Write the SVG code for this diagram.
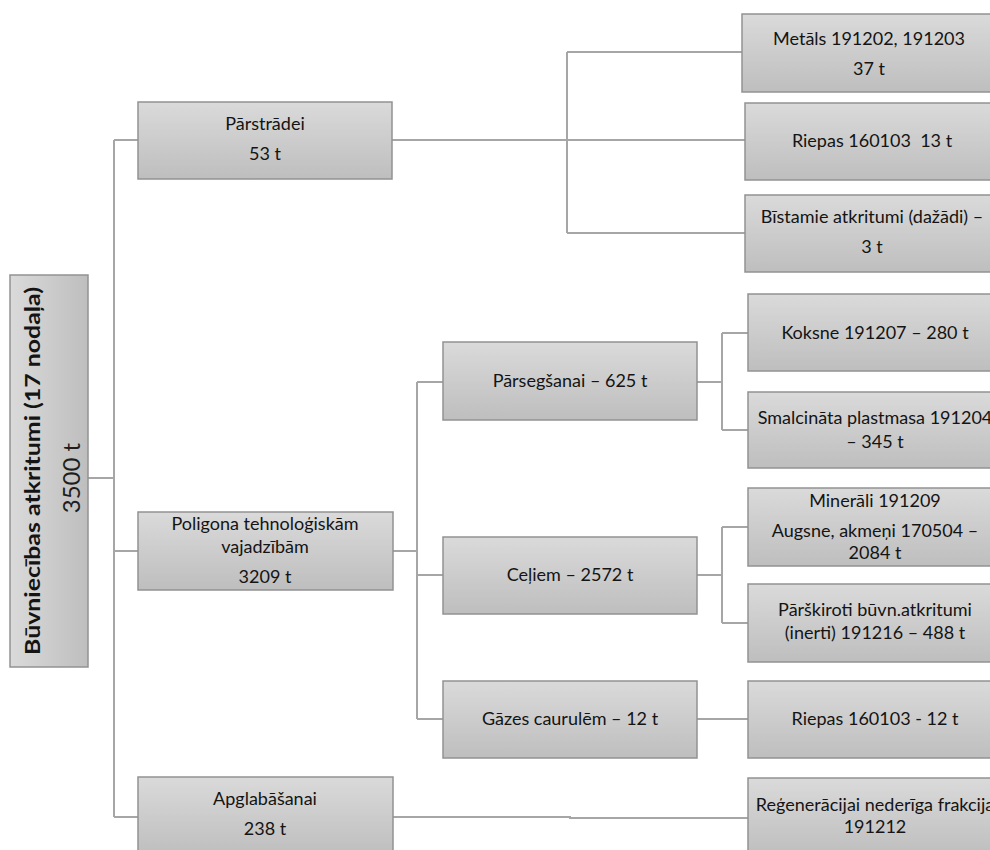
<svg xmlns="http://www.w3.org/2000/svg" width="990" height="850" viewBox="0 0 990 850">
  <defs>
    <linearGradient id="boxFill" x1="0" y1="0" x2="0" y2="1">
      <stop offset="0" stop-color="#dadada"/>
      <stop offset="1" stop-color="#bebebe"/>
    </linearGradient>
    <linearGradient id="rootFill" x1="0" y1="0" x2="1" y2="0">
      <stop offset="0" stop-color="#dadada"/>
      <stop offset="1" stop-color="#bebebe"/>
    </linearGradient>
  </defs>
  <style>
    .box { fill: url(#boxFill); stroke: #929292; stroke-width: 1.5; }
    .root { fill: url(#rootFill); stroke: #929292; stroke-width: 1.5; }
    .lbl { font-family: Lato, "Liberation Sans", sans-serif; font-size: 18px; fill: #141414; text-anchor: middle; }
    .title { font-family: Lato, "Liberation Sans", sans-serif; font-size: 21px; font-weight: bold; fill: #141414; text-anchor: middle; }
    .total { font-family: Lato, "Liberation Sans", sans-serif; font-size: 24px; fill: #1e1e1e; text-anchor: middle; }
    .conn { fill: none; stroke: #a6a6a6; stroke-width: 2; }
  </style>
  <rect width="990" height="850" fill="#ffffff"/>

  <!-- connectors -->
  <g id="connectors" class="conn">
    <path d="M88 478 H114"/>
    <path d="M114 140 V817"/>
    <path d="M114 140 H138 M114 551 H138 M114 817 H138"/>
    <!-- recycling branch -->
    <path d="M392 140 H745"/>
    <path d="M567 52 V233 M567 52 H742 M567 233 H745"/>
    <!-- technological needs branch -->
    <path d="M393 551 H417 M417 382 V719 M417 382 H443 M417 575 H443 M417 719 H443"/>
    <path d="M697 382 H722 M722 333 V430 M722 333 H748 M722 430 H748"/>
    <path d="M697 575 H722 M722 527 V623 M722 527 H748 M722 623 H748"/>
    <path d="M697 719 H748"/>
    <!-- landfill branch -->
    <path d="M393 817 H570 V818 H748"/>
  </g>

  <!-- root -->
  <g id="root">
    <rect class="root" x="10" y="275" width="78" height="392"/>
    <text class="title" transform="translate(40 471) rotate(-90)" textLength="368" lengthAdjust="spacingAndGlyphs">Būvniecības atkritumi (17 nodaļa)</text>
    <text class="total" transform="translate(80 478) rotate(-90)">3500 t</text>
  </g>

  <!-- level 1 -->
  <g id="parstradei">
    <rect class="box" x="138" y="102" width="254" height="77"/>
    <text class="lbl" x="265" y="130">Pārstrādei</text>
    <text class="lbl" x="265" y="160">53 t</text>
  </g>
  <g id="poligona">
    <rect class="box" x="138" y="512" width="255" height="78"/>
    <text class="lbl" x="265" y="530">Poligona tehnoloģiskām</text>
    <text class="lbl" x="265" y="553">vajadzībām</text>
    <text class="lbl" x="265" y="583">3209 t</text>
  </g>
  <g id="apglabasanai">
    <rect class="box" x="138" y="777" width="255" height="78"/>
    <text class="lbl" x="265" y="805">Apglabāšanai</text>
    <text class="lbl" x="265" y="835">238 t</text>
  </g>

  <!-- level 2 -->
  <g id="parsegsanai">
    <rect class="box" x="443" y="342" width="254" height="78"/>
    <text class="lbl" x="570" y="387">Pārsegšanai – 625 t</text>
  </g>
  <g id="celiem">
    <rect class="box" x="443" y="537" width="254" height="77"/>
    <text class="lbl" x="570" y="581">Ceļiem – 2572 t</text>
  </g>
  <g id="gazes">
    <rect class="box" x="443" y="681" width="254" height="77"/>
    <text class="lbl" x="570" y="725">Gāzes caurulēm – 12 t</text>
  </g>

  <!-- level 3 -->
  <g id="metals">
    <rect class="box" x="742" y="14" width="254" height="78"/>
    <text class="lbl" x="869" y="45">Metāls 191202, 191203</text>
    <text class="lbl" x="869" y="75">37 t</text>
  </g>
  <g id="riepas13">
    <rect class="box" x="745" y="103" width="254" height="77"/>
    <text class="lbl" x="872" y="147">Riepas 160103&#160; 13 t</text>
  </g>
  <g id="bistamie">
    <rect class="box" x="745" y="195" width="254" height="77"/>
    <text class="lbl" x="872" y="223">Bīstamie atkritumi (dažādi) –</text>
    <text class="lbl" x="872" y="253">3 t</text>
  </g>
  <g id="koksne">
    <rect class="box" x="748" y="294" width="254" height="77"/>
    <text class="lbl" x="875" y="339">Koksne 191207 – 280 t</text>
  </g>
  <g id="plastmasa">
    <rect class="box" x="748" y="392" width="254" height="76"/>
    <text class="lbl" x="875" y="424">Smalcināta plastmasa 191204</text>
    <text class="lbl" x="875" y="448">– 345 t</text>
  </g>
  <g id="minerali">
    <rect class="box" x="748" y="488" width="254" height="78"/>
    <text class="lbl" x="875" y="507">Minerāli 191209</text>
    <text class="lbl" x="875" y="537">Augsne, akmeņi 170504 –</text>
    <text class="lbl" x="875" y="559">2084 t</text>
  </g>
  <g id="parskiroti">
    <rect class="box" x="748" y="584" width="254" height="78"/>
    <text class="lbl" x="875" y="616">Pārškiroti būvn.atkritumi</text>
    <text class="lbl" x="875" y="639">(inerti) 191216 – 488 t</text>
  </g>
  <g id="riepas12">
    <rect class="box" x="748" y="681" width="254" height="77"/>
    <text class="lbl" x="875" y="725">Riepas 160103 - 12 t</text>
  </g>
  <g id="regeneracijai">
    <rect class="box" x="748" y="778" width="254" height="78"/>
    <text class="lbl" x="875" y="811">Reģenerācijai nederīga frakcija</text>
    <text class="lbl" x="875" y="833">191212</text>
  </g>
</svg>
